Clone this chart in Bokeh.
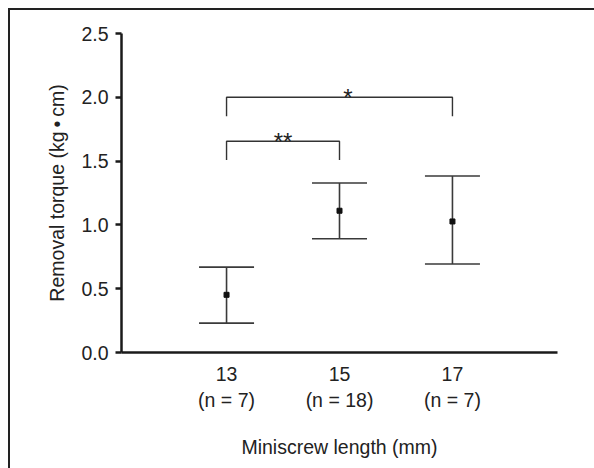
from bokeh.plotting import figure
from bokeh.models import Whisker, TeeHead, ColumnDataSource, FixedTicker, NumeralTickFormatter
from bokeh.embed import file_html
from bokeh.resources import INLINE
from bokeh.core.properties import value

# ---- data ----
lengths = [13, 15, 17]
n_counts = [7, 18, 7]
means = [0.452, 1.111, 1.027]
upper = [0.669, 1.328, 1.383]
lower = [0.230, 0.892, 0.693]
y_ticks = [0.0, 0.5, 1.0, 1.5, 2.0, 2.5]

bracket_left = [13, 13]
bracket_right = [17, 15]
bracket_top = [2.0, 1.655]
bracket_foot = [1.852, 1.508]
bracket_label = ["*", "**"]
bracket_label_x = [15.15, 14.0]

FONT = "Liberation Sans"
TXT = "#222222"
FS = "19.5px"

p = figure(
    width=594, height=468,
    min_border_left=121, min_border_right=37, min_border_top=33, min_border_bottom=116,
    x_range=(11.14, 18.86), y_range=(0, 2.5),
    output_backend="svg", toolbar_location=None,
)
# page frame: top and left rules drawn as CSS background lines behind the transparent canvas border
p.styles = {
    "background-color": "white",
    "background-image": "linear-gradient(#222222, #222222), linear-gradient(#222222, #222222)",
    "background-size": "2px 460px, 586px 2px",
    "background-position": "8px 8px, 8px 8px",
    "background-repeat": "no-repeat, no-repeat",
}
p.outline_line_color = None
p.xgrid.visible = False
p.ygrid.visible = False
p.background_fill_color = "white"
p.border_fill_alpha = 0

# axes
for ax in (p.xaxis[0], p.yaxis[0]):
    ax.axis_line_color = "#1a1a1a"
    ax.axis_line_width = 2.5
    ax.major_tick_line_color = "#1a1a1a"
    ax.major_tick_line_width = 2.5
    ax.minor_tick_line_color = None
    ax.major_label_text_font = FONT
    ax.major_label_text_font_size = FS
    ax.major_label_text_color = TXT
    ax.axis_label_text_font = FONT
    ax.axis_label_text_font_size = FS
    ax.axis_label_text_font_style = "normal"
    ax.axis_label_text_color = TXT

p.yaxis.ticker = FixedTicker(ticks=y_ticks)
p.yaxis.formatter = NumeralTickFormatter(format="0.0")
p.yaxis.major_tick_out = 6
p.yaxis.major_tick_in = 0
p.yaxis.major_label_standoff = 7
p.yaxis.axis_label = "Removal torque (kg\u2009\u2022\u2009cm)"
p.yaxis.axis_label_standoff = 10

p.xaxis.ticker = FixedTicker(ticks=lengths)
p.xaxis.major_label_overrides = {L: f"{L}\n(n = {n})" for L, n in zip(lengths, n_counts)}
p.xaxis.major_tick_out = 0
p.xaxis.major_tick_in = 0
p.xaxis.major_label_standoff = 10
p.xaxis.axis_label = "Miniscrew length (mm)"
p.xaxis.axis_label_standoff = 22

# error bars
src = ColumnDataSource(dict(x=lengths, mean=means, upper=upper, lower=lower))
wc = "#3a3a3a"
w = Whisker(
    base="x", upper="upper", lower="lower", source=src, dimension="height",
    line_color=wc, line_width=1.6,
    upper_head=TeeHead(size=55, line_color=wc, line_width=1.6),
    lower_head=TeeHead(size=55, line_color=wc, line_width=1.6),
)
p.add_layout(w)
p.scatter("x", "mean", source=src, marker="square", size=5, color="#111111")

# significance brackets
bxs = [[l, l, r, r] for l, r in zip(bracket_left, bracket_right)]
bys = [[f, t, t, f] for t, f in zip(bracket_top, bracket_foot)]
p.multi_line(bxs, bys, line_color="#333333", line_width=1.4)
p.text(
    x=bracket_label_x, y=bracket_top, text=bracket_label,
    text_font=value(FONT), text_font_size="24px", text_color=TXT,
    text_align="center", text_baseline="alphabetic", y_offset=0,
)

open("out.html", "w").write(file_html(p, INLINE))
